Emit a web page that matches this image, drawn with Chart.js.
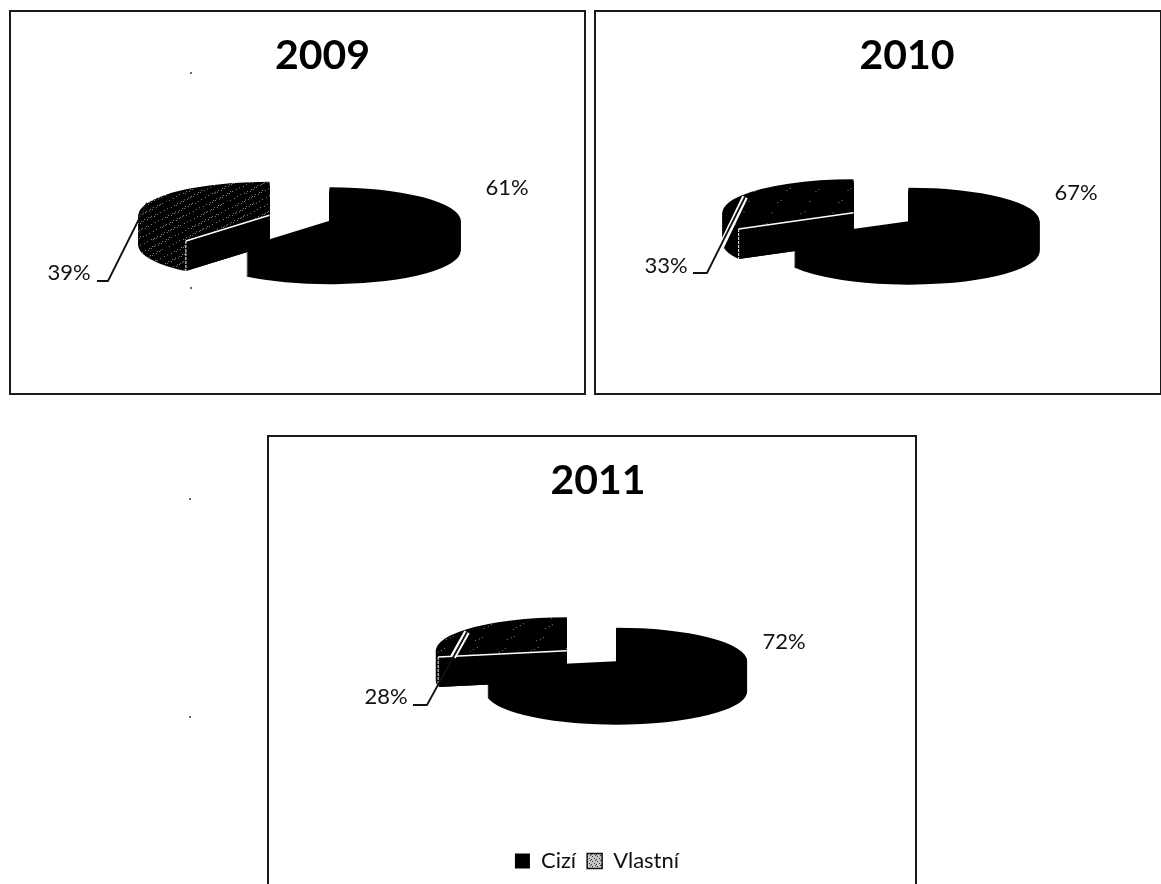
<!DOCTYPE html>
<html>
<head>
<meta charset="utf-8">
<script src="https://cdn.jsdelivr.net/npm/chart.js@4"></script>
<style>
html,body{margin:0;padding:0;background:#fff;width:1161px;height:884px;overflow:hidden}
.panel{position:absolute;box-sizing:border-box;border:2px solid #1a1a1a;background:transparent}
canvas{position:absolute;left:0;top:0}
.speck{position:absolute;width:2px;height:2px;background:#333;border-radius:1px}
</style>
</head>
<body>
<div class="speck" style="left:190px;top:72px"></div>
<div class="speck" style="left:190px;top:287px"></div>
<div class="speck" style="left:189px;top:498px"></div>
<div class="speck" style="left:189px;top:716px"></div>
<script>
const categories = ['Cizí', 'Vlastní'];
const titles = ['2009', '2010', '2011'];
const values2009 = [61, 39];
const values2010 = [67, 33];
const values2011 = [72, 28];

// Layout and style only, below this line
const FONT = 'Lato, "Open Sans", sans-serif';
const RX = 131, RY = 33.5, DEPTH = 30, EXPLODE = 32;
const panels = [
  {box:[9,10,577,385],  centre:[299.5,218],  titleShift:25, legend:false, label0:[507,188], label1:[69,273],
   leader:[[147,203],[108,281],[97,281]], halo:null, speckles:170, values:values2009, title:titles[0]},
  {box:[594,10,568,385], centre:[881,217],  titleShift:29, legend:false, label0:[1076,193], label1:[666,266],
   leader:[[745,197],[707,273],[693,273]], halo:[[745,197],[719,251]], speckles:14, values:values2010, title:titles[1]},
  {box:[267,435,650,460], centre:[591.5,656], titleShift:6, legend:true, label0:[784,642], label1:[386,697],
   leader:[[467,632],[427,705],[413,705]], halo:[[467,632],[453,657]], speckles:26, values:values2011, title:titles[2]}
];

// Print-like texture of the "Vlastní" slice: an even, fixed scatter of dots
function texture(count, background, dot) {
  const W = 61, H = 180;
  const tile = document.createElement('canvas');
  tile.width = W; tile.height = H;
  const c = tile.getContext('2d');
  c.fillStyle = background; c.fillRect(0, 0, W, H);
  c.fillStyle = dot;
  for (let i = 1; i <= count; i++) {
    c.fillRect(Math.floor((i * 0.61803) % 1 * W), Math.floor((i * 0.75488) % 1 * H), 1, 4);
  }
  return c.createPattern(tile, 'repeat');
}
function markerTexture() {
  const tile = document.createElement('canvas');
  tile.width = 5; tile.height = 5;
  const c = tile.getContext('2d');
  c.fillStyle = '#c8c8c8'; c.fillRect(0, 0, 5, 5);
  c.fillStyle = '#333'; c.fillRect(0, 1, 1, 1); c.fillRect(3, 0, 1, 1); c.fillRect(2, 3, 1, 1); c.fillRect(4, 4, 1, 1);
  return c.createPattern(tile, 'repeat');
}

function piePlugin(p, pattern) {
  return {
    id: 'explodedPie',
    afterLayout(chart) {
      if (chart.titleBlock) { chart.titleBlock.left += p.titleShift; chart.titleBlock.right += p.titleShift; }
      if (chart.legend && p.legend) { chart.legend.left += 5; chart.legend.right += 5; }
    },
    beforeDatasetsDraw(chart) {
      const ctx = chart.ctx;
      const arcs = chart.getDatasetMeta(0).data;
      const sq = RY / RX;
      const cx = p.centre[0] - p.box[0], cy = p.centre[1] - p.box[1];
      const dir = a => { const m = (a.startAngle + a.endAngle) / 2; return [Math.cos(m) * EXPLODE, Math.sin(m) * EXPLODE * sq]; };
      const drawSolid = a => {
        const d = dir(a);
        for (let k = DEPTH; k >= 0; k--) {
          pattern.setTransform(new DOMMatrix().translate(0, -k / sq));
          ctx.save();
          ctx.translate(cx + d[0], cy + d[1] + k);
          ctx.scale(1, sq);
          ctx.translate(-a.x, -a.y);
          a.draw(ctx);
          ctx.restore();
        }
      };
      const back = arcs[1], front = arcs[0];
      drawSolid(back);
      const d = dir(back);
      const ax = cx + d[0], ay = cy + d[1];
      const rimX = ax + Math.cos(back.startAngle) * back.outerRadius;
      const rimY = ay + Math.sin(back.startAngle) * back.outerRadius * sq;
      ctx.save();
      // Black cut face of the back slice
      ctx.fillStyle = '#000';
      ctx.beginPath(); ctx.moveTo(ax, ay); ctx.lineTo(rimX, rimY); ctx.lineTo(rimX, rimY + DEPTH); ctx.lineTo(ax, ay + DEPTH); ctx.closePath(); ctx.fill();
      // White edge along the cut
      ctx.strokeStyle = '#fff'; ctx.lineWidth = 1.5;
      ctx.beginPath(); ctx.moveTo(ax, ay); ctx.lineTo(rimX, rimY); ctx.stroke();
      ctx.lineWidth = 1; ctx.setLineDash([3,1]);
      ctx.beginPath(); ctx.moveTo(rimX, rimY); ctx.lineTo(rimX, rimY + DEPTH); ctx.stroke();
      ctx.restore();
      drawSolid(front);
      return false;
    },
    afterDraw(chart) {
      const ctx = chart.ctx;
      const ox = p.box[0], oy = p.box[1];
      const path = pts => { ctx.beginPath(); pts.forEach((q,i) => i ? ctx.lineTo(q[0]-ox,q[1]-oy) : ctx.moveTo(q[0]-ox,q[1]-oy)); };
      ctx.save();
      ctx.lineJoin = 'round';
      if (p.halo) { ctx.strokeStyle = '#fff'; ctx.lineWidth = 6; path(p.halo); ctx.stroke(); }
      ctx.strokeStyle = '#111'; ctx.lineWidth = 1.8; path(p.leader); ctx.stroke();
      ctx.fillStyle = '#111';
      ctx.font = '22px ' + FONT;
      ctx.textAlign = 'center'; ctx.textBaseline = 'middle';
      ctx.fillText(p.values[0] + '%', p.label0[0]-ox, p.label0[1]-oy);
      ctx.fillText(p.values[1] + '%', p.label1[0]-ox, p.label1[1]-oy);
      ctx.restore();
    }
  };
}

panels.forEach(p => {
  const div = document.createElement('div');
  div.className = 'panel';
  div.style.left = p.box[0] + 'px'; div.style.top = p.box[1] + 'px';
  div.style.width = p.box[2] + 'px'; div.style.height = p.box[3] + 'px';
  document.body.appendChild(div);
  const cv = document.createElement('canvas');
  cv.width = p.box[2]; cv.height = p.box[3];
  cv.style.left = p.box[0] + 'px'; cv.style.top = p.box[1] + 'px';
  document.body.appendChild(cv);
  const pattern = texture(p.speckles, '#000', '#808080');
  new Chart(cv, {
    type: 'pie',
    plugins: [piePlugin(p, pattern)],
    data: {
      labels: categories,
      datasets: [{ data: p.values, backgroundColor: ['#000', pattern], borderWidth: 0 }]
    },
    options: {
      responsive: false,
      animation: false,
      radius: RX,
      layout: { padding: { bottom: p.legend ? 13 : 0 } },
      plugins: {
        tooltip: { enabled: false },
        title: { display: true, text: p.title, color: '#000',
                 font: { family: FONT, size: 41, weight: 'bold' }, padding: { top: 21, bottom: 10 } },
        legend: { display: p.legend, position: 'bottom',
                  labels: { color: '#111', font: { family: FONT, size: 22 }, usePointStyle: true,
                            pointStyle: 'rect', boxWidth: 15, boxHeight: 15, padding: 11,
                            generateLabels(chart) {
                              const items = Chart.overrides.pie.plugins.legend.labels.generateLabels(chart);
                              items[1].fillStyle = markerTexture();
                              items[1].strokeStyle = '#111';
                              items[1].lineWidth = 1.5;
                              return items;
                            } } }
      }
    }
  });
});
</script>
</body>
</html>
